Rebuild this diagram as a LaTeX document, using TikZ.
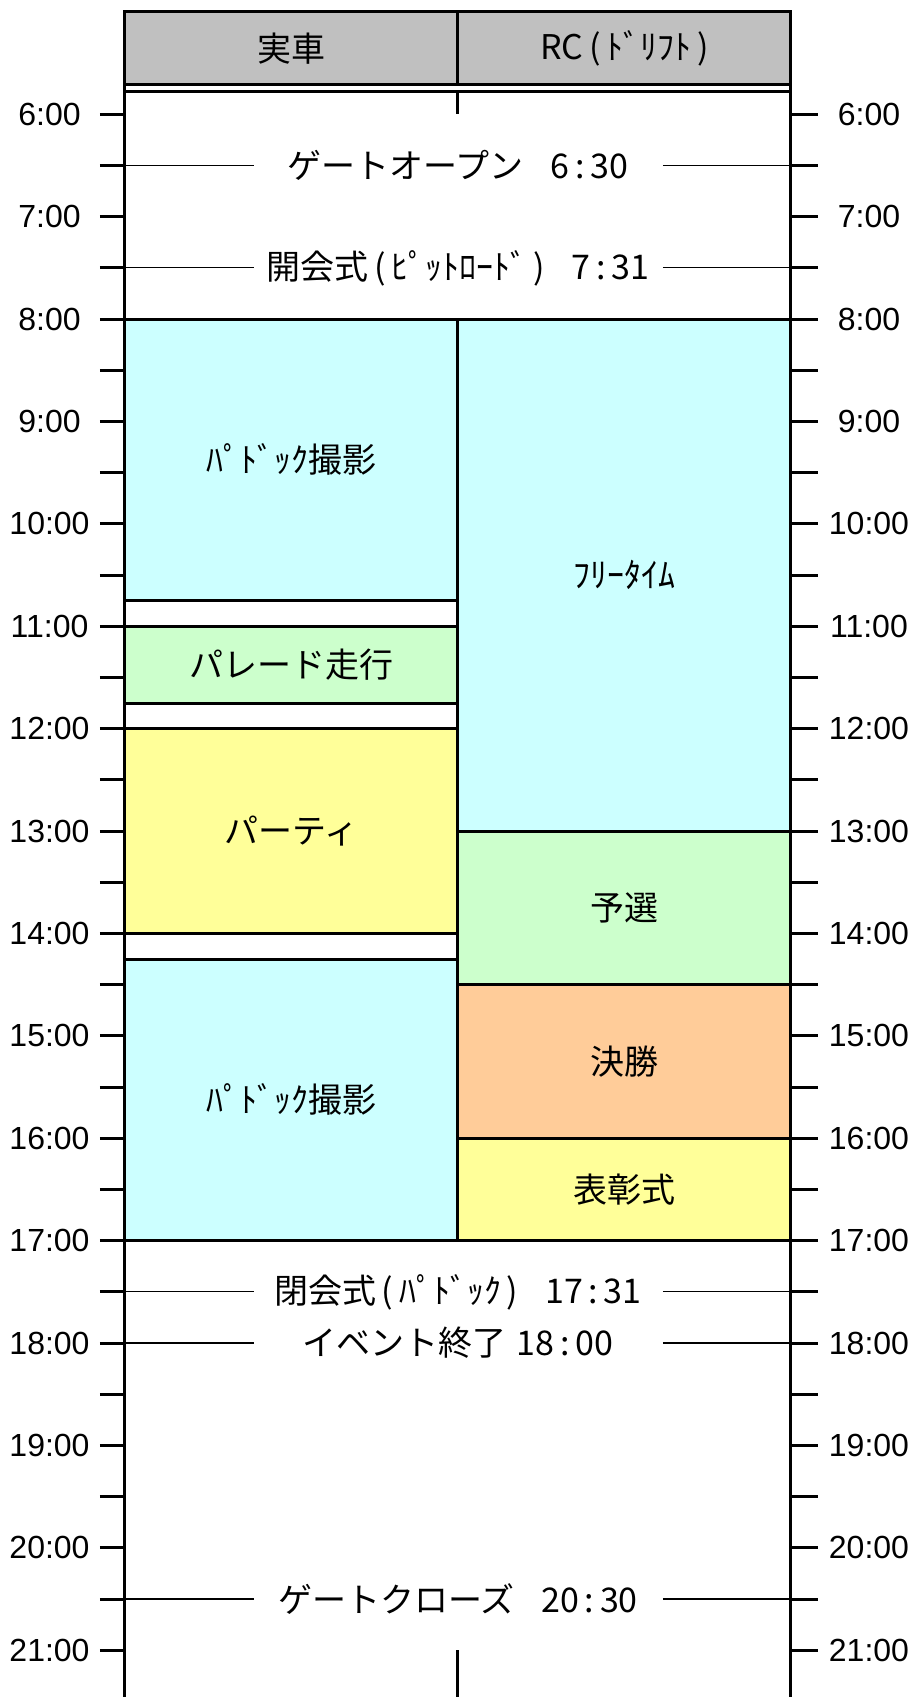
\documentclass[tikz,border=0pt]{standalone}
\usepackage{fontspec}
\setmainfont{Liberation Sans}
\newfontfamily\jpfont{Noto Sans CJK JP}
\usepackage{tikz}

\definecolor{headgray}{HTML}{C0C0C0}
\definecolor{paleblue}{HTML}{CCFFFF}
\definecolor{palegreen}{HTML}{CCFFCC}
\definecolor{paleyellow}{HTML}{FFFF99}
\definecolor{paleorange}{HTML}{FFCC99}

\begin{document}
\begin{tikzpicture}[x=1pt, y=-102.4pt,
    frame/.style={line width=3pt},
    leader/.style={line width=1.1pt},
    jtext/.style={font=\jpfont\fontsize{34}{40}\selectfont},
    hour/.style={font=\fontsize{32}{38}\selectfont}
    ]
\useasboundingbox (0,4.884) rectangle (915,21.457);

% header
\draw[frame, fill=headgray] (125,5) rectangle (458,5.714)
    node[midway, jtext] (car) {実車};
\draw[frame, fill=headgray] (458,5) rectangle (791,5.714)
    node[midway, jtext] (rc) {RC\,(\,ﾄﾞﾘﾌﾄ\,)};
\draw[frame] (125,5.773) -- (791,5.773);

% frame
\draw[frame] (125,5.714) -- (125,21.46);
\draw[frame] (791,5.714) -- (791,21.46);
\draw[frame] (458,5.773) -- (458,6);
\draw[frame] (458,21) -- (458,21.46);

% left column
\draw[frame, fill=paleblue] (125,8) rectangle (458,10.75)
    node[midway, jtext] (paddock1) {ﾊﾟﾄﾞｯｸ撮影};
\draw[frame, fill=palegreen] (125,11) rectangle (458,11.75)
    node[midway, jtext] (parade) {パレード走行};
\draw[frame, fill=paleyellow] (125,12) rectangle (458,14)
    node[midway, jtext] (party) {パーティ};
\draw[frame, fill=paleblue] (125,14.25) rectangle (458,17)
    node[midway, jtext] (paddock2) {ﾊﾟﾄﾞｯｸ撮影};

% right column
\draw[frame, fill=paleblue] (458,8) rectangle (791,13)
    node[midway, jtext] (free) {ﾌﾘｰﾀｲﾑ};
\draw[frame, fill=palegreen] (458,13) rectangle (791,14.5)
    node[midway, jtext] (qual) {予選};
\draw[frame, fill=paleorange] (458,14.5) rectangle (791,16)
    node[midway, jtext] (final) {決勝};
\draw[frame, fill=paleyellow] (458,16) rectangle (791,17)
    node[midway, jtext] (award) {表彰式};

% ticks and hours
\foreach \t in {6,6.5,...,21}{
    \draw[frame] (100,\t) -- (125,\t);
    \draw[frame] (791,\t) -- (818,\t);
}
\foreach \h in {6,...,21}{
    \node[hour] (lh\h) at (49.5,\h) {\h:00};
    \node[hour] (rh\h) at (869,\h) {\h:00};
}

% events
\foreach \t/\txt [count=\i] in {6.5/ゲートオープン\hspace{0.8em}6\,:\,30,
    7.5/開会式\,(\,ﾋﾟｯﾄﾛｰﾄﾞ\,)\hspace{0.8em}7\,:\,31,
    17.5/閉会式\,(\,ﾊﾟﾄﾞｯｸ\,)\hspace{0.8em}17\,:\,31,
    18/イベント終了\hspace{0.3em}18\,:\,00,
    20.5/ゲートクローズ\hspace{0.8em}20\,:\,30}{
    \coordinate (el\i) at (254,\t);
    \coordinate (er\i) at (663,\t);
    \draw[leader] (125,\t) -- (el\i);
    \draw[leader] (er\i) -- (791,\t);
    \node[jtext] (ev\i) at (458,\t) {\txt};
}
\end{tikzpicture}
\end{document}
